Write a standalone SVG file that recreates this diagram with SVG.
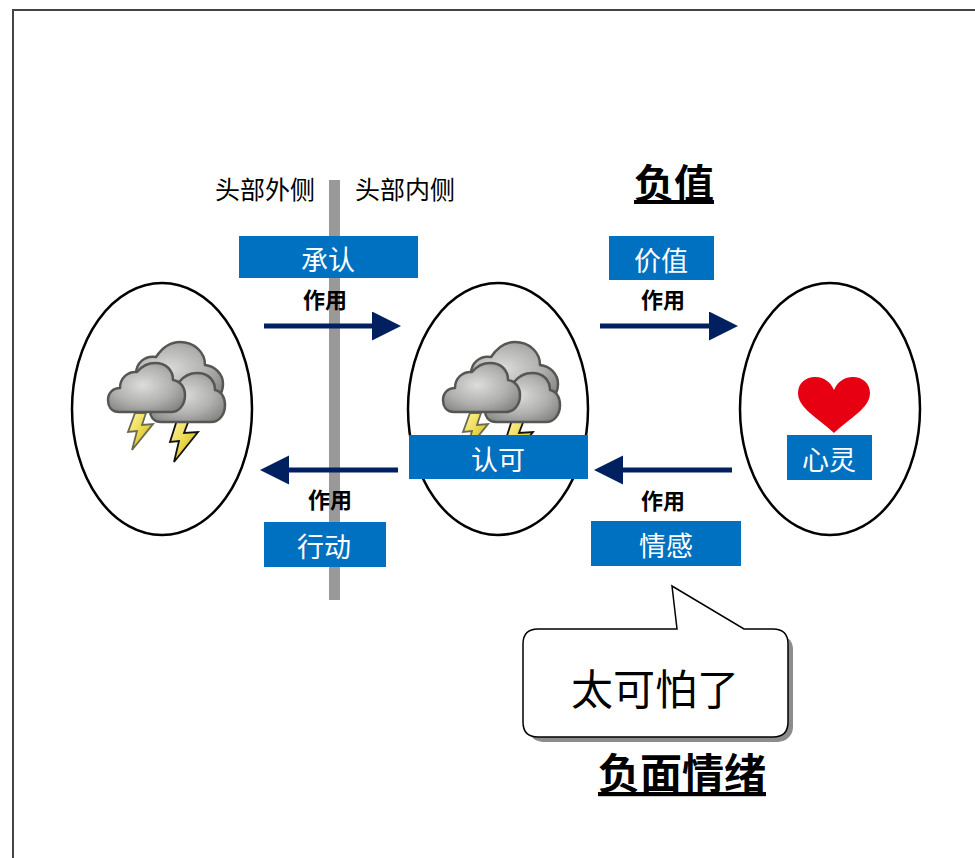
<svg xmlns="http://www.w3.org/2000/svg" width="975" height="858" viewBox="0 0 975 858">
  <style>
    .ring { fill: #ffffff; stroke: #000000; stroke-width: 2.5; }
    .tag { fill: #0070c0; }
    .tag-text { fill: #ffffff; font-family: "Noto Sans CJK SC", "Liberation Sans", sans-serif; font-size: 27px; text-anchor: middle; dominant-baseline: central; }
    .side-text { fill: #000000; font-family: "Noto Sans CJK SC", "Liberation Sans", sans-serif; font-size: 25px; text-anchor: middle; dominant-baseline: central; }
    .act-text { fill: #000000; font-family: "Noto Sans CJK SC", "Liberation Sans", sans-serif; font-size: 22px; font-weight: bold; text-anchor: middle; dominant-baseline: central; }
    .title { fill: #000000; font-family: "Noto Sans CJK SC", "Liberation Sans", sans-serif; font-weight: bold; text-anchor: middle; text-decoration: underline; }
    .flow { stroke: #002060; stroke-width: 5; fill: none; marker-end: url(#head); }
    .cloud { fill: url(#cloudFill); stroke: #555753; stroke-width: 2.5; stroke-linejoin: round; }
    .bolt { fill: url(#boltFill); stroke-width: 1.8; stroke-linejoin: miter; }
  </style>
  <defs>
    <marker id="head" markerUnits="userSpaceOnUse" markerWidth="30" markerHeight="30" refX="0" refY="14.5" orient="auto">
      <path d="M0,0 L29,14.5 L0,29 Z" fill="#002060"/>
    </marker>
    <radialGradient id="cloudFill" cx="0.45" cy="0.45" r="0.65">
      <stop offset="0" stop-color="#dcdedb"/>
      <stop offset="0.6" stop-color="#b0b0ae"/>
      <stop offset="1" stop-color="#858683"/>
    </radialGradient>
    <linearGradient id="boltFill" x1="0" y1="0" x2="1" y2="1">
      <stop offset="0" stop-color="#fff6a8"/>
      <stop offset="0.5" stop-color="#e9d84a"/>
      <stop offset="1" stop-color="#c4a000"/>
    </linearGradient>
    <!-- storm icon: two bolts under a cluster of three clouds -->
    <g id="storm">
      <path class="bolt" stroke="#6a6a50" d="M40,83 L51,83 L47,95 L58,94 L37,120 L42,101 L33,102 Z"/>
      <path class="bolt" stroke="#111111" d="M82,90 L94,90 L89,103 L103,102 L79,132 L84,111 L75,112 Z"/>
      <path class="cloud" d="M40,72 C32,72 27,66 27,58 C27,50 33,44 41,44 C41,33 50,25 61,27 C67,18 75,12 85,12 C99,12 110,22 110,35 C120,36 128,44 128,54 C128,65 120,72 112,72 Z"/>
      <path class="cloud" d="M66,92 C58,92 55,86 55,80 C55,73 60,68 67,68 C67,58 75,51 84,52 C89,46 95,43 102,43 C113,43 120,50 120,60 C126,61 130,67 130,75 C130,85 124,92 116,92 Z"/>
      <path class="cloud" d="M24,82 C16,82 13,76 13,70 C13,63 18,58 25,58 C25,48 33,41 42,42 C47,36 53,33 60,33 C71,33 78,40 78,50 C85,51 90,57 90,65 C90,75 84,82 76,82 Z"/>
    </g>
  </defs>

  <rect x="0" y="0" width="975" height="858" fill="#ffffff"/>
  <!-- page frame -->
  <rect x="13" y="10" width="1000" height="900" fill="none" stroke="#444444" stroke-width="2"/>

  <!-- head boundary bar -->
  <g id="boundary">
    <rect x="329" y="180" width="11" height="420" fill="#999999"/>
    <text class="side-text" x="265" y="188">头部外侧</text>
    <text class="side-text" x="405" y="188">头部内侧</text>
  </g>

  <g id="outside">
    <ellipse class="ring" cx="162" cy="409" rx="90" ry="126"/>
    <use href="#storm" x="95" y="330"/>
  </g>

  <g id="inside">
    <ellipse class="ring" cx="498" cy="409" rx="90" ry="126"/>
    <use href="#storm" x="430" y="330"/>
  </g>

  <g id="heart-node">
    <ellipse class="ring" cx="830" cy="409" rx="90" ry="126"/>
    <path d="M834,433 C818,418 798,408 798,393 C798,383 806,377 815,377 C825,377 831,383 834,390 C837,383 843,377 853,377 C862,377 870,383 870,393 C870,408 850,418 834,433 Z" fill="#e60012"/>
  </g>

  <!-- flow arrows -->
  <g id="connectors">
    <line class="flow" x1="264" y1="326" x2="372" y2="326"/>
    <line class="flow" x1="600" y1="326" x2="709" y2="326"/>
    <line class="flow" x1="398" y1="470" x2="289" y2="470"/>
    <line class="flow" x1="732" y1="470" x2="623" y2="470"/>
  </g>

  <g id="label-acknowledge">
    <rect class="tag" x="239" y="236" width="179" height="42"/>
    <text class="tag-text" x="328" y="258">承认</text>
  </g>
  <g id="label-value">
    <rect class="tag" x="609" y="236" width="105" height="44"/>
    <text class="tag-text" x="661" y="259">价值</text>
  </g>
  <g id="label-approve">
    <rect class="tag" x="409" y="435" width="179" height="44"/>
    <text class="tag-text" x="498" y="458">认可</text>
  </g>
  <g id="label-mind">
    <rect class="tag" x="787" y="435" width="85" height="45"/>
    <text class="tag-text" x="829" y="458">心灵</text>
  </g>
  <g id="label-action">
    <rect class="tag" x="264" y="522" width="122" height="45"/>
    <text class="tag-text" x="324" y="545">行动</text>
  </g>
  <g id="label-feeling">
    <rect class="tag" x="591" y="521" width="150" height="45"/>
    <text class="tag-text" x="666" y="544">情感</text>
  </g>

  <g id="effect-labels">
    <text class="act-text" x="325" y="298">作用</text>
    <text class="act-text" x="663" y="298">作用</text>
    <text class="act-text" x="330" y="498">作用</text>
    <text class="act-text" x="663" y="499">作用</text>
  </g>

  <g id="title-negative">
    <text class="title" x="674" y="198" font-size="40">负值</text>
  </g>

  <!-- speech bubble -->
  <g id="bubble">
    <rect x="528" y="634" width="265" height="108" rx="15" fill="#8c8c8c"/>
    <path d="M538,629 L677,629 L672,586 L744,629 L773,629 Q788,629 788,644 L788,722 Q788,737 773,737 L538,737 Q523,737 523,722 L523,644 Q523,629 538,629 Z" fill="#ffffff" stroke="#000000" stroke-width="1.5"/>
    <text x="655" y="686" font-family="Noto Sans CJK SC, Liberation Sans, sans-serif" font-size="42" text-anchor="middle" dominant-baseline="central" fill="#000000">太可怕了</text>
  </g>

  <g id="title-emotion">
    <text class="title" x="682" y="789" font-size="42">负面情绪</text>
  </g>
</svg>
